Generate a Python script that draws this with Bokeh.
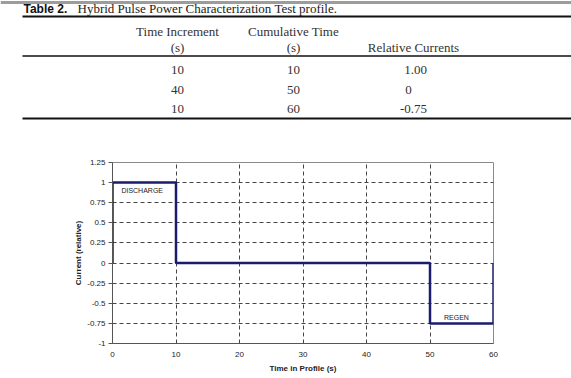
from bokeh.plotting import figure
from bokeh.models import Range1d, FixedTicker, Label
from bokeh.core.properties import value
from bokeh.embed import file_html
from bokeh.resources import INLINE

# ---------------- data ----------------
table_caption_bold = "Table 2."
table_caption = "Hybrid Pulse Power Characterization Test profile."
header_top = ["Time Increment", "Cumulative Time", ""]
header_bottom = ["(s)", "(s)", "Relative Currents"]
time_increment = [10, 40, 10]
cumulative_time = [10, 50, 60]
relative_current = [1.00, 0, -0.75]
current_labels = ["1.00", "0", "-0.75"]

x_ticks = [0, 10, 20, 30, 40, 50, 60]
y_ticks = [-1, -0.75, -0.5, -0.25, 0, 0.25, 0.5, 0.75, 1, 1.25]
y_tick_labels = ["-1", "-0.75", "-0.5", "-0.25", "0", "0.25", "0.5", "0.75", "1", "1.25"]
x_title = "Time in Profile (s)"
y_title = "Current (relative)"
phase_labels = ["DISCHARGE", "REGEN"]

# ---------------- table (top) ----------------
W = 571
TH = 135
serif = value("Liberation Serif")
tab = figure(width=W, height=TH, x_range=Range1d(0, W), y_range=Range1d(TH, 0),
             output_backend="svg", toolbar_location=None, min_border=0)
tab.axis.visible = False
tab.grid.visible = False
tab.outline_line_color = None

# rules
tab.quad(left=[0], right=[W], top=[0.5], bottom=[3.5], fill_color="#9c9c9c", line_color=None)
tab.segment(x0=[22], y0=[16], x1=[W], y1=[16], line_color="#111111", line_width=2)
tab.segment(x0=[22], y0=[55.5], x1=[W], y1=[55.5], line_color="#111111", line_width=1.5)
tab.segment(x0=[22], y0=[118], x1=[W], y1=[118], line_color="#111111", line_width=2)

tab.text(x=[23], y=[15], text=[table_caption_bold], text_font=value("Liberation Sans"),
         text_font_style="bold", text_font_size="12px", text_baseline="bottom",
         text_color="#111111")
tab.text(x=[77], y=[15], text=[table_caption], text_font=serif,
         text_font_size="13px", text_baseline="bottom", text_color="#222222")

col_x = [177, 293, 413]
tab.text(x=col_x, y=[31] * 3, text=header_top, text_font=serif, text_font_size="13px",
         text_align="center", text_baseline="middle", text_color="#333333")
tab.text(x=col_x, y=[47] * 3, text=header_bottom, text_font=serif, text_font_size="13px",
         text_align="center", text_baseline="middle", text_color="#333333")
row_y = [69, 89, 108]
tab.text(x=[col_x[0]] * 3, y=row_y, text=[str(v) for v in time_increment], text_font=serif,
         text_font_size="13px", text_align="center", text_baseline="middle", text_color="#333333")
tab.text(x=[col_x[1]] * 3, y=row_y, text=[str(v) for v in cumulative_time], text_font=serif,
         text_font_size="13px", text_align="center", text_baseline="middle", text_color="#333333")
tab.text(x=[col_x[2] + 2, col_x[2] - 5, col_x[2]], y=row_y, text=current_labels, text_font=serif,
         text_font_size="13px", text_align="center", text_baseline="middle", text_color="#333333")

# ---------------- chart ----------------
# build step profile from the table
t = [0]
c = [0]
for ct, cur in zip(cumulative_time, relative_current):
    start = t[-1]
    t += [start, ct]
    c += [cur, cur]
t += [cumulative_time[-1]]
c += [0]

p = figure(width=W, height=378 - TH, x_range=Range1d(0, 60), y_range=Range1d(-1, 1.25),
           output_backend="svg", toolbar_location=None,
           min_border_left=112, min_border_right=78, min_border_top=27, min_border_bottom=35)
p.outline_line_color = "#8a8a8a"
p.outline_line_width = 1
p.background_fill_color = "white"
p.border_fill_color = "white"

p.xaxis.ticker = FixedTicker(ticks=x_ticks)
p.yaxis.ticker = FixedTicker(ticks=y_ticks)
p.yaxis.major_label_overrides = {v: s for v, s in zip(y_ticks, y_tick_labels)}
for ax in (p.xaxis, p.yaxis):
    ax.axis_line_color = "#555555"
    ax.major_tick_line_color = "#555555"
    ax.major_tick_in = 0
    ax.minor_tick_line_color = None
    ax.major_label_text_font = "Liberation Sans"
    ax.major_label_text_font_size = "8px"
    ax.major_label_text_color = "#222222"
    ax.axis_label_text_font = "Liberation Sans"
    ax.axis_label_text_font_size = "8px"
    ax.axis_label_text_font_style = "bold"
    ax.axis_label_text_color = "#222222"
p.yaxis.major_tick_out = 4
p.xaxis.major_tick_out = 0
p.xaxis.major_tick_line_color = None
p.xaxis.axis_label = x_title
p.yaxis.axis_label = y_title
p.xaxis.major_label_standoff = 8
p.xaxis.axis_label_standoff = 4
p.yaxis.major_label_standoff = 3
p.yaxis.axis_label_standoff = 1

p.xgrid.grid_line_color = "#444444"
p.xgrid.grid_line_dash = "4 3"
p.ygrid.grid_line_color = "#444444"
p.ygrid.grid_line_dash = "4 3"

p.line(t, c, line_color="#1c1c6e", line_width=2.5)

p.add_layout(Label(x=1.4, y=0.9, text=phase_labels[0], text_font="Liberation Sans",
                   text_font_size="7px", text_baseline="middle", text_color="#222222"))
p.add_layout(Label(x=52.2, y=-0.68, text=phase_labels[1], text_font="Liberation Sans",
                   text_font_size="7px", text_baseline="middle", text_color="#222222"))

# two separate roots (stacked), so the table frame is not aligned to the chart frame
open("out.html", "w").write(file_html([tab, p], INLINE))
